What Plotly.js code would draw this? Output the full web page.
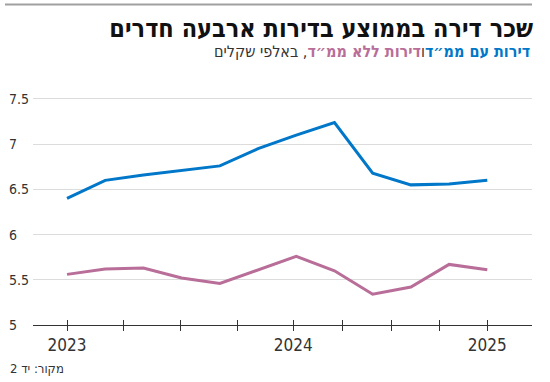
<!DOCTYPE html>
<html>
<head>
<meta charset="utf-8">
<script src="https://cdn.plot.ly/plotly-3.0.1.min.js"></script>
<style>
  html, body { margin: 0; padding: 0; background: #fff; }
  #chart { width: 550px; height: 382px; }
</style>
</head>
<body>
<div id="chart"></div>
<script>
// ---- data ----
const periods = [0, 1, 2, 3, 4, 5, 6, 7, 8, 9, 10, 11];
const withSafeRoom = [6.40, 6.60, 6.66, 6.71, 6.76, 6.95, 7.10, 7.24, 6.68, 6.55, 6.56, 6.60];
const withoutSafeRoom = [5.56, 5.62, 5.63, 5.52, 5.46, 5.61, 5.76, 5.60, 5.34, 5.42, 5.67, 5.61];
const tickPositions = [0, 1.47, 2.96, 4.45, 5.92, 7.2, 8.48, 9.76, 11];
const tickLabels = ['2023', '', '', '', '2024', '', '', '', '2025'];
const yTicks = [5, 5.5, 6, 6.5, 7, 7.5];
const yTickLabels = ['5', '5.5', '6', '6.5', '7', '7.5'];

const BLUE = '#0077c8';
const PINK = '#b86e98';
const NUMFONT = '"Liberation Sans Narrow", "DejaVu Sans Condensed", "Roboto", sans-serif';
const HEBFONT = '"Liberation Sans Narrow", "DejaVu Sans Condensed", "Noto Sans", sans-serif';

const xRange = [-0.89, 12.17];
const yRange = [5, 7.544];

const traces = [
  { x: periods, y: withSafeRoom, type: 'scatter', mode: 'lines',
    line: { color: BLUE, width: 3 }, hoverinfo: 'skip', xaxis: 'x', yaxis: 'y' },
  { x: periods, y: withoutSafeRoom, type: 'scatter', mode: 'lines',
    line: { color: PINK, width: 3 }, hoverinfo: 'skip', xaxis: 'x', yaxis: 'y' },
  // carrier trace so the overlay x axis (upper half of the crossing ticks) gets drawn
  { x: [periods[0]], y: [withoutSafeRoom[0]], type: 'scatter', mode: 'markers',
    marker: { opacity: 0, size: 1 }, hoverinfo: 'skip', xaxis: 'x2', yaxis: 'y' }
];

// y tick labels, left-aligned at the page edge
const yLabelAnnotations = yTicks.map((v, i) => ({
  xref: 'paper', yref: 'y', x: 0, xanchor: 'left', y: v, yanchor: 'middle',
  showarrow: false, text: yTickLabels[i],
  font: { family: NUMFONT, size: 14, color: '#333' }
}));

const layout = {
  width: 550, height: 382,
  margin: { l: 7, r: 18, t: 95, b: 57 },
  paper_bgcolor: '#fff', plot_bgcolor: '#fff',
  showlegend: false,
  font: { family: NUMFONT, color: '#333' },
  title: {
    text: '<b>שכר דירה בממוצע בדירות ארבעה חדרים</b>',
    font: { family: HEBFONT, size: 25, color: '#111' },
    xref: 'container', yref: 'container',
    x: 533 / 550, xanchor: 'right', y: 1 - 28 / 382, yanchor: 'middle'
  },
  xaxis: {
    domain: [26 / 525, 1], range: xRange, anchor: 'y',
    tickmode: 'array', tickvals: tickPositions, ticktext: tickLabels,
    ticks: 'outside', ticklen: 5, tickwidth: 1, tickcolor: '#333',
    showline: true, linecolor: '#333', linewidth: 1,
    showgrid: false, zeroline: false,
    tickfont: { family: NUMFONT, size: 17, color: '#333' }
  },
  xaxis2: {
    overlaying: 'x', range: xRange, anchor: 'y', domain: [26 / 525, 1],
    tickmode: 'array', tickvals: tickPositions, showticklabels: false,
    ticks: 'inside', ticklen: 5, tickwidth: 1, tickcolor: '#333',
    showline: false, showgrid: false, zeroline: false
  },
  yaxis: {
    range: yRange, anchor: 'x',
    tickmode: 'array', tickvals: yTicks, showticklabels: false,
    showgrid: true, gridcolor: '#dcdcdc', gridwidth: 1,
    zeroline: false, showline: false, ticks: ''
  },
  shapes: [
    { type: 'line', xref: 'paper', yref: 'paper', x0: -2 / 525, x1: 1.0,
      y0: 1 + (95 - 4.5) / 230, y1: 1 + (95 - 4.5) / 230,
      line: { color: '#a0a0a0', width: 2 } }
  ],
  annotations: [
    { xref: 'paper', yref: 'paper', x: 1, xanchor: 'right',
      y: 1 + (95 - 52) / 230, yanchor: 'middle', showarrow: false,
      text: '<b><span style="color:' + BLUE + '">דירות עם ממ״ד</span></b>ו<b><span style="color:' + PINK + '">דירות ללא ממ״ד</span></b>, באלפי שקלים',
      font: { family: HEBFONT, size: 16, color: '#333' } },
    { xref: 'paper', yref: 'paper', x: 1 / 525, xanchor: 'left',
      y: -(368 - 325) / 230, yanchor: 'middle', showarrow: false,
      text: 'מקור: יד 2',
      font: { family: HEBFONT, size: 13, color: '#333' } }
  ].concat(yLabelAnnotations)
};

Plotly.newPlot('chart', traces, layout, { staticPlot: true, displayModeBar: false });
</script>
</body>
</html>
